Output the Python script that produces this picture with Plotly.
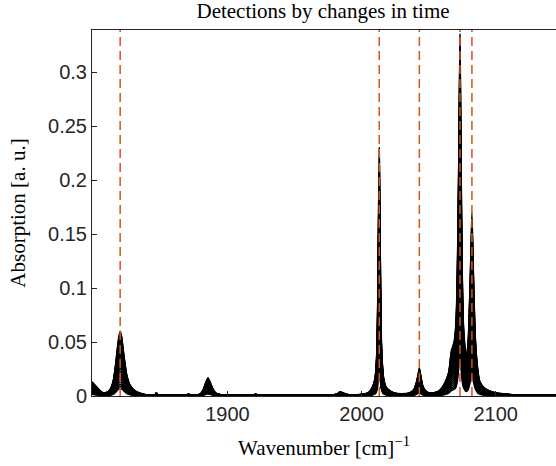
import plotly.graph_objects as go

# Wavenumber sample points and absorption of the strongest (latest) spectrum
wavenumber = [1795, 1799, 1802, 1805, 1807, 1809, 1811, 1813, 1815, 1816.5, 1818, 1819, 1820, 1821, 1822,
              1823.5, 1825, 1827, 1830, 1834, 1840, 1846, 1847, 1848, 1860, 1870, 1871, 1872, 1877, 1880,
              1882, 1884, 1885.5, 1887, 1889, 1891, 1894, 1900, 1920, 1921, 1922, 1950, 1978, 1982, 1984,
              1986, 1989, 1995, 2002, 2005, 2008, 2010, 2011, 2011.8, 2012.5, 2013.2, 2013.9, 2014.6, 2015.5,
              2016.5, 2018, 2020, 2024, 2030, 2036, 2039, 2041, 2042.5, 2043.1, 2044, 2045.5, 2047, 2050, 2054,
              2058, 2062, 2065, 2067, 2069, 2070.5, 2071.5, 2072.5, 2073.4, 2074.2, 2075, 2076, 2078,
              2079.5, 2080.5, 2081.5, 2082.3, 2083.1, 2084, 2085, 2086.5, 2088, 2091, 2095, 2100, 2110,
              2125, 2150]
absorption = [0.016, 0.013, 0.009, 0.005, 0.003, 0.003, 0.004, 0.007, 0.015, 0.028, 0.045, 0.055, 0.060,
              0.056, 0.046, 0.031, 0.019, 0.011, 0.006, 0.003, 0.001, 0.001, 0.003, 0.001, 0.001, 0.001,
              0.002, 0.001, 0.001, 0.002, 0.006, 0.013, 0.017, 0.013, 0.007, 0.003, 0.0015, 0.001, 0.001,
              0.002, 0.001, 0.001, 0.001, 0.002, 0.004, 0.003, 0.0015, 0.001, 0.002, 0.003, 0.008, 0.016,
              0.030, 0.060, 0.140, 0.230, 0.140, 0.060, 0.030, 0.016, 0.009, 0.006, 0.003, 0.002, 0.003,
              0.006, 0.013, 0.022, 0.026, 0.020, 0.010, 0.006, 0.003, 0.003, 0.005, 0.012, 0.022, 0.042,
              0.050, 0.070, 0.120, 0.220, 0.335, 0.220, 0.120, 0.065, 0.035, 0.050, 0.085, 0.130, 0.170,
              0.130, 0.085, 0.050, 0.026, 0.014, 0.008, 0.005, 0.003, 0.0015, 0.001, 0.001]

time_scales = [1.0, 0.97, 0.94, 0.90, 0.86, 0.82, 0.78, 0.74, 0.70, 0.66, 0.62, 0.58,
               0.54, 0.50, 0.46, 0.42, 0.38, 0.34, 0.30, 0.26, 0.22, 0.18, 0.15, 0.12]

# Detected peak positions (dashed markers)
detections = [1820, 2013.2, 2043.1, 2073.4, 2082.3]

x_ticks = [1900, 2000, 2100]
y_ticks = [0, 0.05, 0.1, 0.15, 0.2, 0.25, 0.3]
y_tick_text = ["0", "0.05", "0.1", "0.15", "0.2", "0.25", "0.3"]

fig = go.Figure()
for s in time_scales:
    fig.add_trace(go.Scatter(
        x=wavenumber, y=[a * s for a in absorption], mode="lines",
        line=dict(color="black", width=1.5, shape="spline", smoothing=0.6),
        showlegend=False, hoverinfo="skip"))

for d in detections:
    fig.add_shape(type="line", xref="x", yref="paper", x0=d, x1=d, y0=0, y1=1,
                  line=dict(color="#D95319", width=1.5, dash="9px,5px"), layer="above")

axis_common = dict(showgrid=False, zeroline=False, showline=True, linecolor="#262626", linewidth=1,
                   mirror=True, ticks="inside", ticklen=5, tickcolor="#262626",
                   tickfont=dict(family="Liberation Sans, Arial", size=20, color="#262626"))

fig.update_layout(
    width=556, height=466,
    margin=dict(l=92, r=0, t=30, b=70),
    paper_bgcolor="white", plot_bgcolor="white",
    title=dict(text="Detections by changes in time", x=0.581, xanchor="center", y=0.978, yanchor="middle",
               font=dict(family="Liberation Serif, Times New Roman", size=21, color="black")),
    xaxis=dict(range=[1799, 2145], tickvals=x_ticks,
               title=dict(text="Wavenumber [cm]<sup>−1</sup>", standoff=16,
                          font=dict(family="Liberation Serif, Times New Roman", size=21, color="black")),
               **axis_common),
    yaxis=dict(range=[0, 0.339], tickvals=y_ticks, ticktext=y_tick_text,
               title=dict(text="Absorption [a. u.]", standoff=16,
                          font=dict(family="Liberation Serif, Times New Roman", size=21, color="black")),
               **axis_common),
)

fig.write_html("out.html")
